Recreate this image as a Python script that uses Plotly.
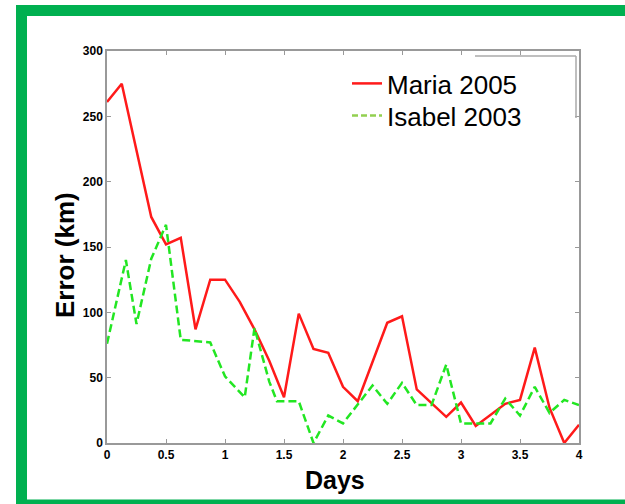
import plotly.graph_objects as go

# ---- data ----
maria_days = [0, 0.125, 0.375, 0.5, 0.625, 0.75, 0.875, 1.0, 1.125, 1.25, 1.375, 1.5,
              1.625, 1.75, 1.875, 2.0, 2.125, 2.375, 2.5, 2.625, 2.875, 3.0, 3.125,
              3.375, 3.5, 3.625, 3.75, 3.875, 4.0]
maria_err = [261, 275, 173, 152, 157, 87, 125, 125, 108, 87, 63, 35,
             99, 72, 69, 43, 32, 92, 97, 41, 20, 31, 13,
             30, 33, 73, 27, 0, 14]

isabel_days = [0, 0.16, 0.25, 0.375, 0.5, 0.625, 0.875, 1.0, 1.167, 1.25, 1.375, 1.44,
               1.625, 1.75, 1.875, 2.0, 2.25, 2.375, 2.5, 2.625, 2.75, 2.875, 3.0,
               3.25, 3.375, 3.5, 3.625, 3.75, 3.875, 4.0]
isabel_err = [76, 140, 91, 141, 167, 79, 77, 51, 35, 88, 47, 32,
              32, 0, 21, 15, 44, 30, 46, 29, 29, 60, 15,
              15, 34, 21, 43, 23, 33, 29]

x_ticks = [0, 0.5, 1, 1.5, 2, 2.5, 3, 3.5, 4]
x_tick_labels = ["0", "0.5", "1", "1.5", "2", "2.5", "3", "3.5", "4"]
y_ticks = [0, 50, 100, 150, 200, 250, 300]
y_tick_labels = ["0", "50", "100", "150", "200", "250", "300"]

series_names = ["Maria 2005", "Isabel 2003"]
x_title = "Days"
y_title = "Error (km)"

W, H = 625, 504
L, R, T, B = 107, 579, 51, 443  # plot area in pixels


def px(xp):
    return (xp - L) / (R - L)


def py(yp):
    return (B - yp) / (B - T)


RED = "#ff1a1a"
GREEN = "#22e622"
LEG_GREEN = "#92d050"
FONT = "Liberation Sans, Arial, sans-serif"

fig = go.Figure()
fig.add_trace(go.Scatter(x=maria_days, y=maria_err, mode="lines", name=series_names[0],
                         line=dict(color=RED, width=2.5), showlegend=False))
fig.add_trace(go.Scatter(x=isabel_days, y=isabel_err, mode="lines", name=series_names[1],
                         line=dict(color=GREEN, width=2.5, dash="8px,4px"), showlegend=False))
# legend entries (two legends to control spacing)
fig.add_trace(go.Scatter(x=[None], y=[None], mode="lines", name=series_names[0],
                         line=dict(color=RED, width=2.5), legend="legend"))
fig.add_trace(go.Scatter(x=[None], y=[None], mode="lines", name=series_names[1],
                         line=dict(color=LEG_GREEN, width=2.5, dash="6px,3px"), legend="legend2"))

axis_common = dict(
    showline=True, linecolor="#999999", linewidth=1.5, mirror="ticks",
    ticks="inside", ticklen=4, tickcolor="#999999", tickwidth=1,
    showgrid=False, zeroline=False,
    tickfont=dict(family=FONT, size=12, color="black", weight="bold"),
)

leg_common = dict(xanchor="left", yanchor="top", bgcolor="rgba(0,0,0,0)", borderwidth=0,
                  font=dict(family=FONT, size=26, color="black"))

fig.update_layout(
    width=W, height=H,
    margin=dict(l=L, r=W - R, t=T, b=H - B, pad=0),
    paper_bgcolor="white", plot_bgcolor="white",
    xaxis=dict(range=[0, 4], tickvals=x_ticks, ticktext=x_tick_labels, **axis_common),
    yaxis=dict(range=[0, 300], tickvals=y_ticks, ticktext=y_tick_labels, **axis_common),
    legend=dict(x=px(347), y=py(60), **leg_common),
    legend2=dict(x=px(347), y=py(92), **leg_common),
    showlegend=True,
    annotations=[
        dict(text=x_title, xref="paper", yref="paper", x=px(335), y=py(480),
             xanchor="center", yanchor="middle", showarrow=False,
             font=dict(family=FONT, size=25, color="black", weight="bold")),
        dict(text=y_title, xref="paper", yref="paper", x=px(65), y=py(255),
             xanchor="center", yanchor="middle", showarrow=False, textangle=-90,
             font=dict(family=FONT, size=26, color="black", weight="bold")),
    ],
    shapes=[
        # green frame
        dict(type="rect", xref="paper", yref="paper",
             x0=px(21.5), x1=px(640), y0=py(10.5), y1=py(505),
             line=dict(color="#00b050", width=11), fillcolor="rgba(0,0,0,0)", layer="above"),
        # stray box lines near the legend
        dict(type="line", xref="paper", yref="paper",
             x0=px(475), x1=px(576), y0=py(56), y1=py(56),
             line=dict(color="#aaaaaa", width=1.5)),
        dict(type="line", xref="paper", yref="paper",
             x0=px(576), x1=px(576), y0=py(56), y1=py(118),
             line=dict(color="#aaaaaa", width=1.5)),
    ],
)

fig.write_html("out.html")
